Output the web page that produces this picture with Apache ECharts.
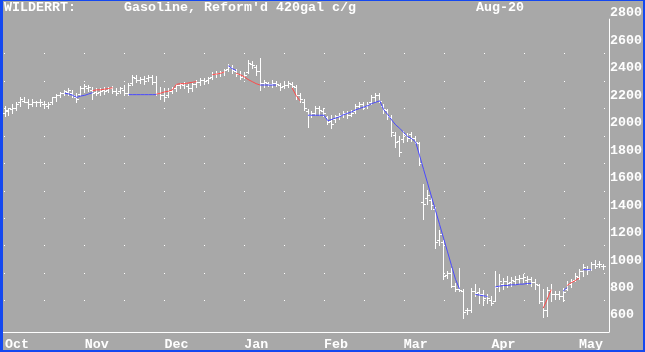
<!DOCTYPE html>
<html>
<head>
<meta charset="utf-8">
<script src="https://cdn.jsdelivr.net/npm/echarts@6/dist/echarts.min.js"></script>
<style>
  html, body { margin: 0; padding: 0; background: #a8a8a8; }
  #chart { width: 645px; height: 352px; }
  #frame {
    position: absolute; left: 0; top: 0; width: 645px; height: 352px;
    box-sizing: border-box; border-style: solid; border-color: #1448f0;
    border-width: 1px 2px 2px 3px; pointer-events: none;
  }
</style>
</head>
<body>
<div id="chart"></div>
<div id="frame"></div>
<script>
// month labels and the bar index where each month starts
const monthNames = ['Oct', 'Nov', 'Dec', 'Jan', 'Feb', 'Mar', 'Apr', 'May'];
const monthStart = [0, 20, 40, 60, 80, 100, 122, 144];
const barCount = 152;

// daily OHLC, Oct -> May
const opens = [
  2170, 2180, 2195, 2205, 2245, 2255, 2245, 2235, 2245, 2250,
  2235, 2220, 2245, 2285, 2300, 2315, 2320, 2315, 2285, 2305,
  2350, 2350, 2335, 2320, 2320, 2335, 2335, 2345, 2330, 2330,
  2335, 2315, 2385, 2420, 2405, 2415, 2420, 2430, 2395, 2315,
  2300, 2300, 2330, 2350, 2370, 2370, 2365, 2350, 2380, 2395,
  2405, 2405, 2430, 2450, 2455, 2465, 2485, 2500, 2470, 2450,
  2435, 2465, 2520, 2500, 2470, 2385, 2385, 2380, 2385, 2370,
  2365, 2370, 2380, 2355, 2295, 2250, 2180, 2155, 2170, 2200,
  2180, 2135, 2105, 2120, 2145, 2155, 2165, 2155, 2180, 2220,
  2230, 2220, 2245, 2280, 2295, 2220, 2185, 2135, 2005, 1965,
  1980, 2005, 2015, 1985, 1950, 1515, 1550, 1535, 1465, 1245,
  1230, 985, 1000, 905, 885, 870, 730, 730, 870, 865,
  845, 830, 805, 800, 905, 920, 945, 935, 945, 955,
  965, 950, 955, 935, 915, 800, 730, 880, 845, 845,
  835, 885, 920, 950, 970, 1015, 1030, 1030, 1070, 1070, 1055
];
const highs = [
  2220, 2205, 2230, 2245, 2280, 2285, 2265, 2265, 2255, 2265,
  2255, 2250, 2285, 2305, 2320, 2335, 2350, 2335, 2315, 2365,
  2380, 2370, 2355, 2350, 2350, 2355, 2355, 2365, 2350, 2355,
  2370, 2385, 2445, 2445, 2430, 2435, 2445, 2445, 2435, 2355,
  2350, 2345, 2355, 2380, 2385, 2395, 2380, 2385, 2405, 2420,
  2420, 2430, 2465, 2470, 2470, 2485, 2520, 2515, 2485, 2470,
  2465, 2550, 2545, 2515, 2570, 2405, 2395, 2405, 2400, 2385,
  2395, 2400, 2395, 2370, 2315, 2265, 2195, 2180, 2215, 2220,
  2205, 2145, 2155, 2155, 2170, 2180, 2180, 2185, 2235, 2250,
  2245, 2250, 2295, 2315, 2315, 2235, 2195, 2155, 2030, 2000,
  2035, 2020, 2030, 2000, 1955, 1650, 1605, 1550, 1480, 1315,
  1245, 1015, 1035, 930, 1035, 885, 745, 895, 920, 895,
  880, 850, 835, 1015, 995, 965, 980, 970, 980, 985,
  995, 980, 970, 955, 920, 885, 900, 920, 870, 870,
  895, 945, 955, 1000, 1030, 1065, 1050, 1080, 1095, 1085, 1065
];
const lows = [
  2145, 2155, 2170, 2185, 2215, 2245, 2205, 2215, 2220, 2220,
  2205, 2200, 2230, 2255, 2280, 2295, 2300, 2280, 2245, 2295,
  2320, 2330, 2270, 2300, 2300, 2305, 2320, 2315, 2300, 2315,
  2300, 2300, 2370, 2395, 2385, 2380, 2400, 2380, 2300, 2265,
  2255, 2285, 2315, 2330, 2345, 2350, 2320, 2330, 2355, 2370,
  2380, 2385, 2415, 2430, 2435, 2445, 2470, 2455, 2435, 2415,
  2420, 2455, 2495, 2445, 2335, 2355, 2365, 2355, 2365, 2335,
  2350, 2355, 2345, 2270, 2245, 2185, 2065, 2135, 2150, 2155,
  2145, 2085, 2055, 2100, 2120, 2135, 2130, 2145, 2170, 2200,
  2195, 2205, 2235, 2255, 2245, 2170, 2120, 2000, 1920, 1855,
  1955, 1965, 1965, 1945, 1785, 1395, 1500, 1465, 1180, 1205,
  955, 965, 900, 870, 870, 670, 700, 720, 830, 785,
  765, 785, 770, 795, 870, 885, 900, 905, 920, 930,
  935, 920, 905, 885, 785, 680, 685, 800, 815, 815,
  800, 880, 900, 945, 955, 980, 995, 1020, 1035, 1045, 1030
];
const closes = [
  2185, 2200, 2205, 2235, 2265, 2250, 2230, 2250, 2250, 2245,
  2230, 2230, 2280, 2300, 2315, 2330, 2335, 2295, 2265, 2350,
  2365, 2355, 2315, 2315, 2330, 2330, 2345, 2330, 2315, 2345,
  2315, 2370, 2430, 2405, 2415, 2400, 2430, 2395, 2315, 2300,
  2280, 2330, 2350, 2370, 2380, 2385, 2345, 2380, 2395, 2405,
  2400, 2420, 2450, 2455, 2465, 2480, 2505, 2480, 2450, 2430,
  2445, 2530, 2515, 2470, 2385, 2395, 2380, 2385, 2380, 2355,
  2370, 2385, 2365, 2295, 2265, 2205, 2155, 2165, 2200, 2185,
  2165, 2100, 2085, 2145, 2155, 2165, 2150, 2170, 2220, 2230,
  2215, 2235, 2280, 2300, 2255, 2195, 2145, 2030, 1955, 1885,
  2015, 1985, 1985, 1955, 1800, 1505, 1570, 1495, 1230, 1285,
  980, 1000, 905, 885, 880, 715, 730, 870, 855, 845,
  820, 820, 785, 900, 945, 945, 930, 950, 955, 965,
  970, 955, 935, 920, 800, 735, 880, 850, 850, 835,
  865, 920, 945, 980, 1015, 1045, 1020, 1065, 1055, 1065, 1050
];

// Wilder RT stop line: [first bar index, values]
const rtBlueSegments = [
  [15, [2310, 2305, 2295, 2280, 2290, 2295, 2305, 2315]],
  [31, [2300, 2300, 2300, 2300, 2300, 2300, 2300, 2300]],
  [56, [2510, 2490, 2475]],
  [64, [2370, 2370, 2370, 2370, 2370]],
  [76, [2150, 2150, 2150, 2150, 2150]],
  [81, [2110, 2120, 2130, 2140, 2155, 2165, 2175, 2190, 2200, 2210, 2220, 2235, 2245, 2255,
        2190, 2155, 2115, 2080, 2055, 2025, 1995, 1980, 1955, 1855, 1755, 1655, 1555, 1455,
        1355, 1255, 1155, 1055, 955, 885]],
  [118, [845, 840, 835, 830]],
  [123, [900, 905, 910, 910, 915, 915, 920, 920, 925, 925]],
  [140, [870, 895]],
  [145, [1025, 1025, 1025]]
];
const rtRedSegments = [
  [22, [2330, 2335, 2335, 2340, 2345, 2350]],
  [38, [2305, 2310, 2320, 2325, 2335, 2375, 2380, 2380, 2385, 2390, 2395]],
  [52, [2445, 2450, 2455, 2465]],
  [58, [2455, 2445, 2430, 2410, 2395, 2380, 2370]],
  [72, [2350, 2295, 2255]],
  [135, [745, 810, 880]],
  [141, [910, 930, 945, 965]]
];

const FONT = 'Liberation Mono';
const dayIndex = Array.from({ length: barCount }, (_, i) => i);

function toSeries(segments) {
  const out = dayIndex.map(() => null);
  segments.forEach(([start, vals]) => {
    vals.forEach((v, k) => { out[start + k] = v; });
  });
  return out;
}

const bars = opens.map((o, i) => [i, o, highs[i], lows[i], closes[i]]);

function renderBar(params, api) {
  const idx = api.value(0);
  const hi = api.coord([idx, api.value(2)]);
  const lo = api.coord([idx, api.value(3)]);
  const op = api.coord([idx, api.value(1)]);
  const cl = api.coord([idx, api.value(4)]);
  const x = Math.floor(hi[0] + 0.01);
  const yTop = Math.round(hi[1]);
  const yBot = Math.round(lo[1]);
  const style = { fill: '#ffffff' };
  return {
    type: 'group',
    children: [
      { type: 'rect', shape: { x: x, y: yTop, width: 1, height: yBot - yTop + 1 }, style: style },
      { type: 'rect', shape: { x: x - 2, y: Math.round(op[1]), width: 2, height: 1 }, style: style },
      { type: 'rect', shape: { x: x + 1, y: Math.round(cl[1]), width: 2, height: 1 }, style: style }
    ]
  };
}

const labelFont = { color: '#ffffff', fontFamily: FONT, fontSize: 13.33, fontWeight: 'bold' };
const dotRow = 'rgba(255,255,255,0)';
const titleFont = 'bold 13.33px "Liberation Mono"';

const option = {
  animation: false,
  backgroundColor: '#a8a8a8',
  grid: { left: 3, right: 34, top: 13, bottom: 20 },
  graphic: [
    { type: 'text', left: 4, top: 1, style: { text: 'WILDERRT:', fill: '#fff', font: titleFont } },
    { type: 'text', left: 124, top: 1, style: { text: "Gasoline, Reform'd 420gal c/g", fill: '#fff', font: titleFont } },
    { type: 'text', left: 476, top: 1, style: { text: 'Aug-20', fill: '#fff', font: titleFont } }
  ],
  xAxis: {
    type: 'category',
    data: dayIndex,
    boundaryGap: true,
    axisLine: { lineStyle: { color: '#ffffff', width: 1 } },
    axisTick: { show: false },
    axisLabel: Object.assign({
      interval: (i) => monthStart.includes(i),
      formatter: (v) => monthNames[monthStart.indexOf(Number(v))] || '',
      align: 'left',
      margin: 6
    }, labelFont),
    splitLine: { show: false }
  },
  yAxis: {
    type: 'value',
    position: 'right',
    min: 571.4,
    max: 2850,
    splitNumber: 11,
    axisLine: { show: true, lineStyle: { color: '#ffffff', width: 1 } },
    axisTick: { show: false },
    axisLabel: Object.assign({
      showMinLabel: false,
      showMaxLabel: false,
      formatter: (v) => String(Math.round(v)),
      align: 'left',
      margin: 1,
      verticalAlign: 'bottom',
      lineHeight: 26
    }, labelFont),
    splitLine: {
      show: true,
      lineStyle: {
        color: [dotRow, dotRow, '#fff', '#fff', '#fff', '#fff', '#fff', '#fff', '#fff', '#fff', '#fff', '#fff', dotRow, dotRow],
        type: [1, 39],
        dashOffset: 39,
        width: 1
      }
    }
  },
  series: [
    {
      type: 'custom',
      renderItem: renderBar,
      data: bars,
      encode: { x: 0, y: [1, 2, 3, 4] },
      z: 2
    },
    {
      type: 'line',
      data: toSeries(rtBlueSegments),
      showSymbol: false,
      symbol: 'none',
      connectNulls: false,
      lineStyle: { color: '#4a4aff', width: 1 },
      z: 3
    },
    {
      type: 'line',
      data: toSeries(rtRedSegments),
      showSymbol: false,
      symbol: 'none',
      connectNulls: false,
      lineStyle: { color: '#ff4a4a', width: 1 },
      z: 3
    }
  ]
};

echarts.init(document.getElementById('chart')).setOption(option);
</script>
</body>
</html>
